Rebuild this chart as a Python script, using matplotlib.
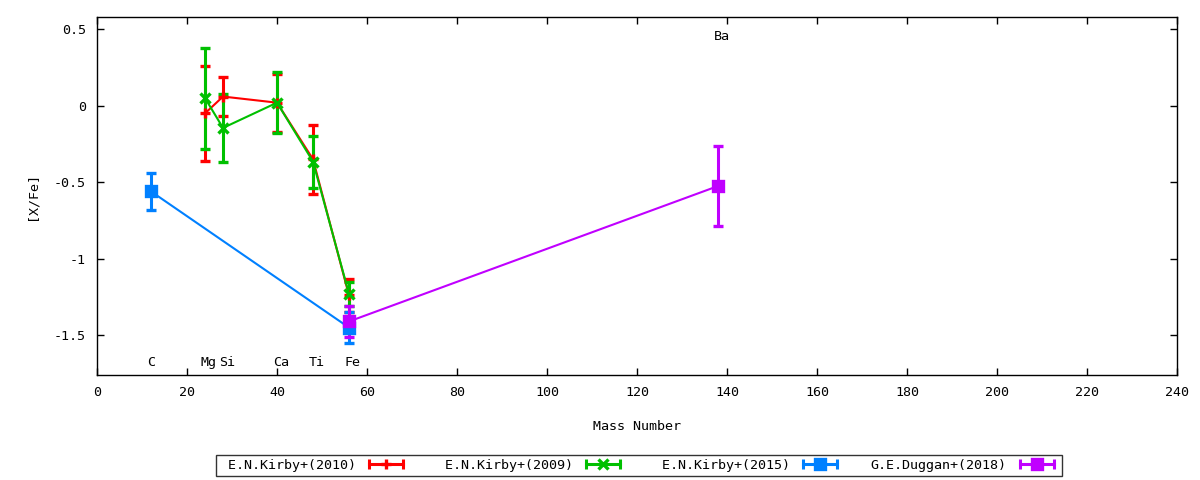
import matplotlib
matplotlib.use('Agg')
import matplotlib.pyplot as plt
from matplotlib.lines import Line2D
from matplotlib.legend_handler import HandlerLine2D, HandlerTuple

plt.rcParams['font.family'] = ['DejaVu Sans Mono']
plt.rcParams['font.size'] = 9.6
plt.rcParams['axes.unicode_minus'] = False

# element labels
elements = ['C', 'Mg', 'Si', 'Ca', 'Ti', 'Fe', 'Ba']
element_mass = [12, 24, 28, 40, 48, 56, 138]
element_label_y = [-1.68, -1.68, -1.68, -1.68, -1.68, -1.68, 0.45]

# E.N.Kirby+(2010): Mg Si Ca Ti Fe
kirby2010_x = [24, 28, 40, 48, 56]
kirby2010_y = [-0.05, 0.06, 0.02, -0.35, -1.24]
kirby2010_err = [0.31, 0.125, 0.19, 0.225, 0.105]

# E.N.Kirby+(2009): Mg Si Ca Ti Fe
kirby2009_x = [24, 28, 40, 48, 56]
kirby2009_y = [0.05, -0.145, 0.02, -0.365, -1.23]
kirby2009_err = [0.33, 0.22, 0.2, 0.17, 0.08]

# E.N.Kirby+(2015): C Fe
kirby2015_x = [12, 56]
kirby2015_y = [-0.56, -1.45]
kirby2015_err = [0.12, 0.1]

# G.E.Duggan+(2018): Fe Ba
duggan2018_x = [56, 138]
duggan2018_y = [-1.41, -0.525]
duggan2018_err = [0.1, 0.26]

series = [
    ('E.N.Kirby+(2010)', kirby2010_x, kirby2010_y, kirby2010_err, '#ff0000', '+'),
    ('E.N.Kirby+(2009)', kirby2009_x, kirby2009_y, kirby2009_err, '#00c000', 'x'),
    ('E.N.Kirby+(2015)', kirby2015_x, kirby2015_y, kirby2015_err, '#0080ff', 's'),
    ('G.E.Duggan+(2018)', duggan2018_x, duggan2018_y, duggan2018_err, '#c000ff', 's'),
]

fig = plt.figure(figsize=(12, 4.8), dpi=100)
ax = fig.add_axes([97/1200, 1-375/480, 1080/1200, 358/480])

# gnuplot right-justifies key text to the longest title
width = max(len(s[0]) for s in series)

handles = []
hmap = {}
for name, x, y, err, clr, mk in series:
    ax.errorbar(x, y, yerr=err, color=clr, lw=1.5, elinewidth=2.2,
                capsize=3.6, capthick=2.2, marker=mk, ms=7, mew=2.4)
    caps = Line2D([], [], color=clr, lw=2.2, marker='|', ms=7, mew=2.2)
    mid = Line2D([], [], color=clr, ls='none', marker=mk, ms=7, mew=2.4)
    hmap[caps] = HandlerLine2D(numpoints=2)
    hmap[mid] = HandlerLine2D(numpoints=1)
    handles.append(((caps, mid), name.rjust(width)))

for el, mx, ly in zip(elements, element_mass, element_label_y):
    ax.annotate(el, (mx, ly), xytext=(-3, 0), textcoords='offset points',
                ha='left', va='center')

ax.set_xlim(0, 240)
ax.set_ylim(-1.76, 0.58)
ax.set_xticks(range(0, 241, 20))
ax.set_yticks([0.5, 0, -0.5, -1, -1.5])
ax.set_yticklabels(['0.5', '0', '-0.5', '-1', '-1.5'])
ax.tick_params(direction='in', top=True, right=True, length=5, width=1, pad=8)
for s in ax.spines.values():
    s.set_linewidth(1)
ax.set_xlabel('Mass Number', labelpad=15)
ax.set_ylabel('[X/Fe]', labelpad=11)

hmap[tuple] = HandlerTuple(ndivide=1)
leg = fig.legend([h for h, _ in handles], [n for _, n in handles],
                 handler_map=hmap, loc='center', ncol=4,
                 bbox_to_anchor=(639/1200, 1-465/480), markerfirst=False,
                 handlelength=3.2, handletextpad=0.68, columnspacing=2.2,
                 frameon=True, fancybox=False, edgecolor='black',
                 borderpad=0.3, borderaxespad=0)
leg.get_frame().set_linewidth(1)

fig.savefig('out.png', dpi=100)
